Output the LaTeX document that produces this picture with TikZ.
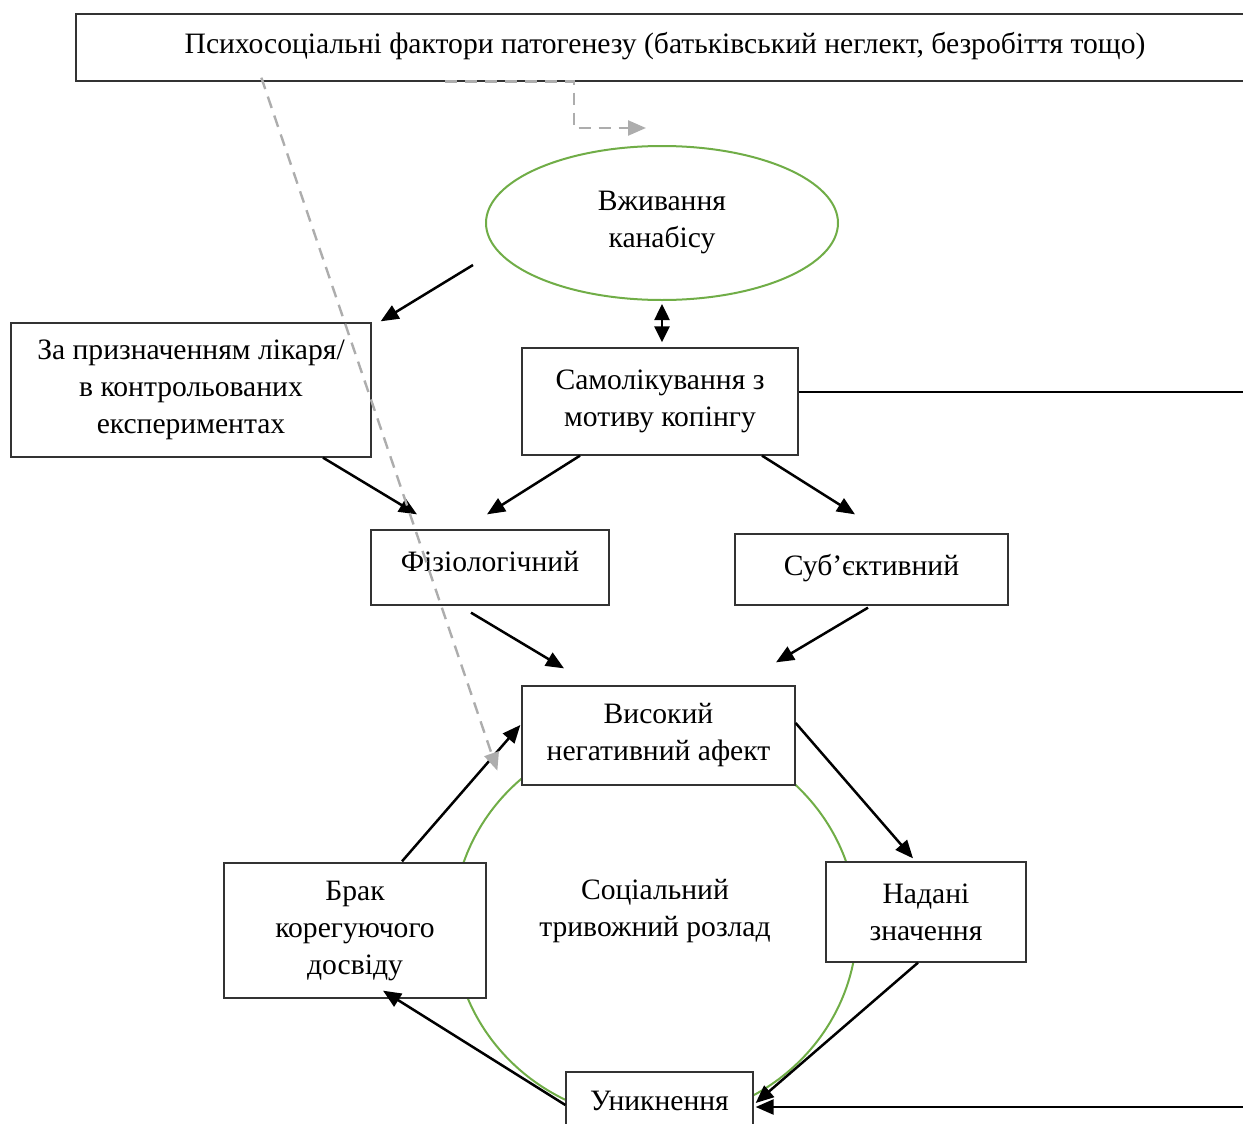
\documentclass[tikz,border=0pt]{standalone}
\usepackage{fontspec}
\setmainfont{Liberation Serif}
\usetikzlibrary{arrows.meta,calc,shapes.geometric}

\begin{document}
\begin{tikzpicture}[x=0.5pt,y=-0.5pt,
    font=\fontsize{14.8}{18.5}\selectfont,
    box/.style={draw=black!80,line width=0.65pt,fill=white,inner sep=0pt,align=center},
    arr/.style={line width=1.25pt,-{Triangle[length=9pt,width=7.5pt]}},
    dasharr/.style={draw=black!32,line width=1.2pt,dash pattern=on 6pt off 4pt,-{Triangle[length=9pt,width=7.5pt]}}]
        \useasboundingbox (0,0) rectangle (1243,1124);
        \clip (0,0) rectangle (1243,1124);

        % Draw the cycle
        \draw[draw={rgb,255:red,112;green,173;blue,71},line width=1pt] (655,925) ellipse (202 and 195);
        \node[align=center] (sad) at (655,911) {Соціальний\\тривожний розлад};

        % Draw the boxes
        \node[box,minimum width=589pt,minimum height=33.5pt,text depth=5pt] (top) at (665,47.5) {Психосоціальні фактори патогенезу (батьківський неглект, безробіття тощо)};
        \node[ellipse,draw={rgb,255:red,112;green,173;blue,71},line width=1pt,fill=white,minimum width=176pt,minimum height=77pt,align=center] (ell) at (662,223) {Вживання\\канабісу};
        \node[box,minimum width=180pt,minimum height=67pt] (zap) at (191,390) {За призначенням лікаря/\\в контрольованих\\експериментах};
        \node[box,minimum width=138pt,minimum height=53.5pt] (self) at (660,401.5) {Самолікування з\\мотиву копінгу};
        \node[box,minimum width=119pt,minimum height=37.5pt,text depth=6pt] (fiz) at (490,567.5) {Фізіологічний};
        \node[box,minimum width=136.5pt,minimum height=35.5pt,text depth=5pt] (sub) at (871.5,569.5) {Суб’єктивний};
        \node[box,minimum width=136.5pt,minimum height=49.5pt] (high) at (658.5,735.5) {Високий\\негативний афект};
        \node[box,minimum width=131pt,minimum height=67.5pt] (brak) at (355,930.5) {Брак\\корегуючого\\досвіду};
        \node[box,minimum width=100pt,minimum height=50pt] (nad) at (926,912) {Надані\\значення};
        \node[box,minimum width=93.5pt,minimum height=29pt] (unyk) at (659.5,1101) {Уникнення};

        % Free ends at the right edge
        \coordinate (rt) at (1260,392);
        \coordinate (rb) at (1260,1107);

        % Draw the arrows
        \draw[arr] ($(ell.center)+(-189,42)$) -- ($(zap.north east)+(9,-1)$);
        \draw[line width=1.25pt,{Triangle[length=8pt,width=7.5pt]}-{Triangle[length=8pt,width=7.5pt]}] ($(ell.south)+(0,3)$) -- ($(self.north)+(2,-5)$);
        \draw[line width=1.1pt] ($(self.east)+(0,-9.5)$) -- (rt);
        \draw[arr] ($(zap.south)+(132,0)$) -- ($(fiz.north)+(-73,-15)$);
        \draw[arr] ($(self.south)+(-80,0)$) -- ($(fiz.north)+(-3,-15)$);
        \draw[arr] ($(self.south)+(102,0)$) -- ($(sub.north)+(-16.5,-19)$);
        \draw[arr] ($(fiz.south)+(-19,7)$) -- ($(high.north)+(-94.5,-17)$);
        \draw[arr] ($(sub.south)+(-3.5,2)$) -- ($(high.north)+(117.5,-23)$);
        \draw[arr] ($(brak.north)+(47,-1)$) -- ($(high.west)+(-1,-10.5)$);
        \draw[arr] ($(high.east)+(0,-12.5)$) -- ($(nad.north)+(-13,-3)$);
        \draw[arr] ($(nad.south)+(-8,0)$) -- ($(unyk.east)+(2,2)$);
        \draw[arr] ($(unyk.west)+(0,4)$) -- ($(brak.south)+(28,-8)$);
        \draw[arr] (rb) -- ($(unyk.east)+(2,6)$);

        % Draw the dashed arrows
        \draw[dasharr] ($(top.south)+(-220,0)$) -- ($(top.south)+(-91,0)$) |- ($(ell.north)+(-16,-17)$);
        \draw[dasharr] ($(top.south west)+(186,-4)$) -- ($(high.south west)+(-24,-15)$);
\end{tikzpicture}
\end{document}
